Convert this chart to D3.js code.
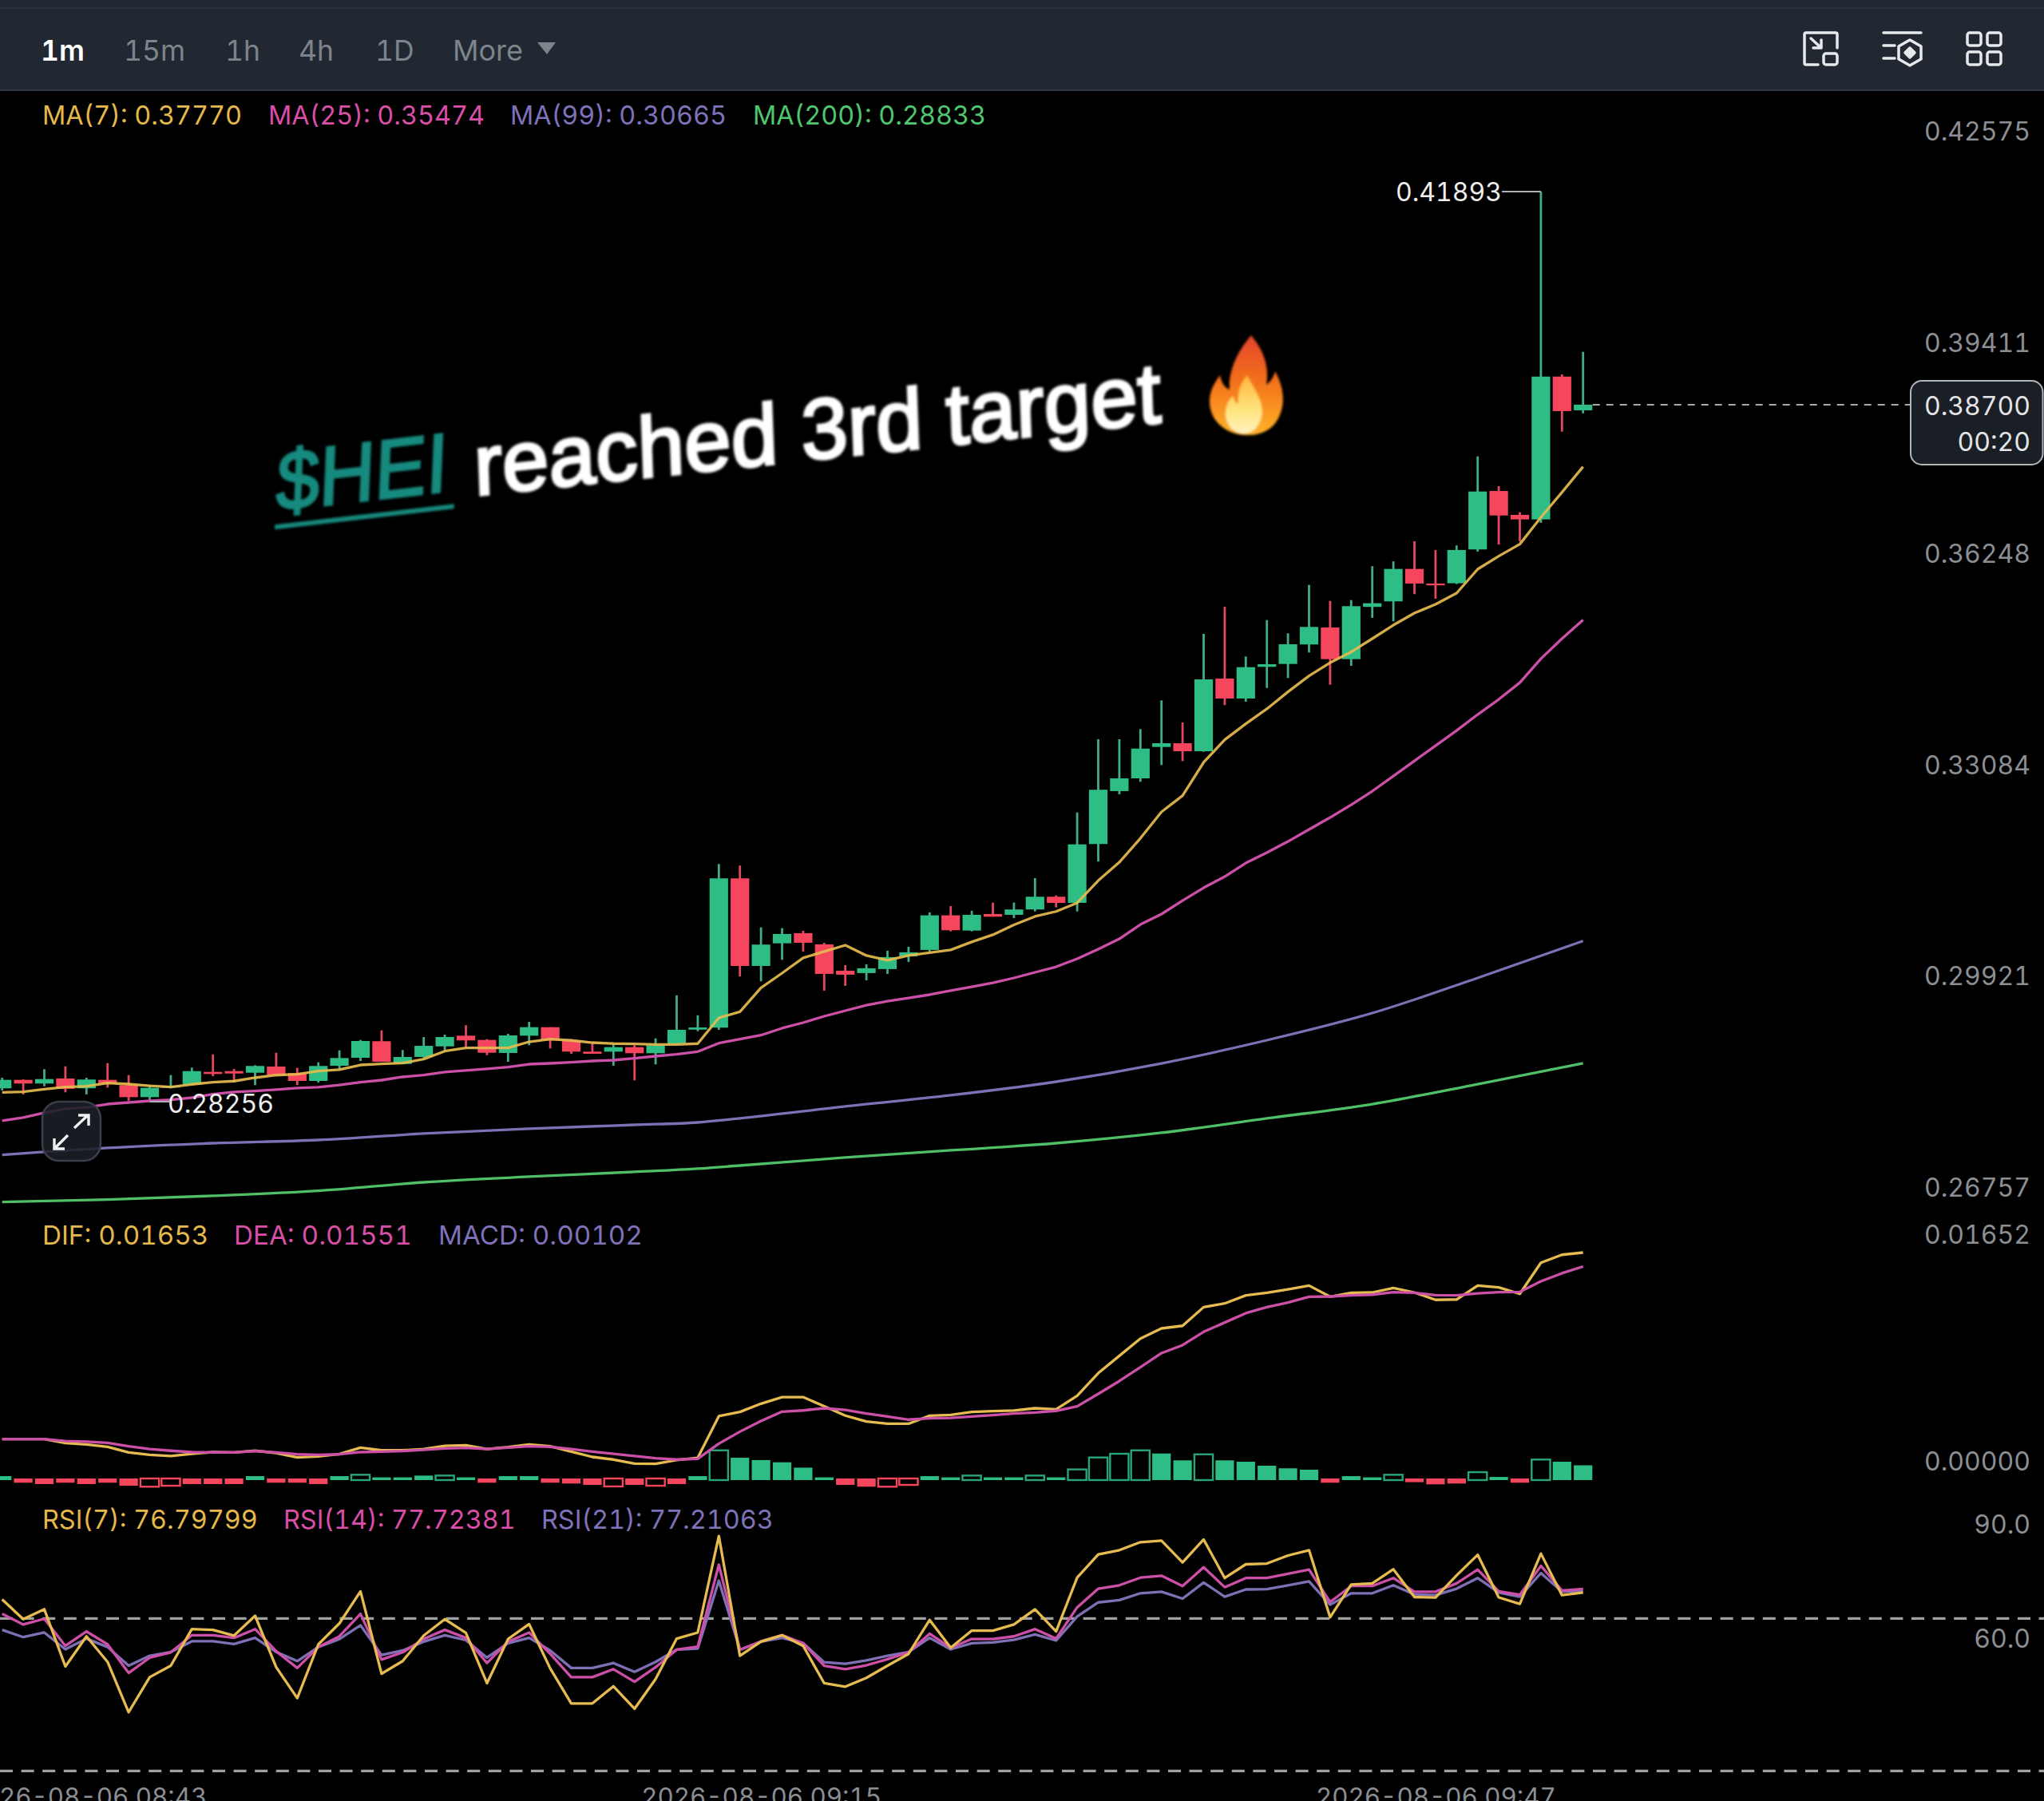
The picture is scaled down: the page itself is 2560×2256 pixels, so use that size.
<!DOCTYPE html>
<html><head><meta charset="utf-8">
<script src="https://cdn.jsdelivr.net/npm/d3@7"></script>
<style>html,body{margin:0;padding:0;background:#000;overflow:hidden}svg{display:block}text{font-family:Inter,Roboto,sans-serif;font-variant-numeric:tabular-nums;font-feature-settings:"tnum" 1}</style>
</head><body><svg id="c" width="2560" height="2256"></svg>
<script>
const opens=[.28456,.28583,.28528,.28603,.28456,.28583,.28504,.28324,.28468,.28516,.28702,.28714,.28690,.28782,.28683,.28567,.28794,.28914,.29162,.28822,.28926,.29085,.29245,.29181,.28986,.29245,.29372,.29174,.29006,.29006,.29073,.28982,.29126,.29336,.29365,.31602,.30290,.30629,.30781,.30613,.30219,.30183,.30243,.30434,.30530,.31048,.30820,.31068,.31056,.31136,.31327,.31235,.32117,.32910,.33101,.33571,.33627,.33507,.34596,.34297,.34772,.34815,.35107,.35361,.34887,.35670,.35753,.36239,.36020,.36024,.36531,.37407,.37049,.36981,.39121,.38616];
const closes=[.28583,.28528,.28595,.28448,.28588,.28528,.28324,.28463,.28495,.28714,.28671,.28678,.28791,.28654,.28567,.28791,.28910,.29165,.28854,.28926,.29093,.29225,.29174,.28989,.29249,.29372,.29174,.29006,.28974,.29073,.28982,.29102,.29333,.29368,.31602,.30290,.30610,.30769,.30637,.30171,.30159,.30255,.30422,.30494,.31048,.30825,.31056,.31028,.31136,.31327,.31235,.32112,.32930,.33101,.33547,.33627,.33507,.34584,.34297,.34767,.34811,.35110,.35370,.34887,.35681,.35725,.36239,.36020,.35993,.36523,.37399,.37040,.36981,.39121,.38604,.38700];
const highs=[.28615,.28590,.28743,.28786,.28615,.28834,.28654,.28495,.28654,.28767,.28965,.28747,.28803,.28989,.28762,.28846,.29025,.29181,.29324,.29030,.29225,.29261,.29401,.29193,.29273,.29452,.29372,.29193,.29145,.29114,.29102,.29205,.29850,.29551,.31818,.31794,.30868,.30856,.30817,.30637,.30302,.30315,.30518,.30578,.31092,.31187,.31116,.31239,.31239,.31606,.31346,.32590,.33687,.33687,.33839,.34269,.33938,.35266,.35672,.34927,.35473,.35274,.35999,.35760,.35772,.36280,.36352,.36654,.36523,.36591,.37925,.37479,.37088,.41893,.39154,.39492];
const lows=[.28424,.28364,.28487,.28396,.28364,.28468,.28270,.28256,.28456,.28507,.28639,.28547,.28504,.28647,.28504,.28543,.28747,.28866,.28854,.28818,.28914,.29013,.29073,.28953,.28854,.29102,.29054,.28974,.28974,.28794,.28576,.28815,.29114,.29312,.29333,.30131,.30060,.30382,.30506,.29920,.29991,.30075,.30171,.30350,.30506,.30808,.30808,.31028,.31008,.31107,.31167,.31107,.31854,.32862,.33050,.33301,.33360,.33499,.34198,.34249,.34456,.34604,.34987,.34504,.34787,.35506,.35454,.35861,.35793,.36012,.36499,.36603,.36650,.36929,.38296,.38571];

const ma7=[.28396,.28403,.28444,.28475,.28487,.28535,.28519,.28495,.28475,.28516,.28547,.28564,.28615,.28654,.28666,.28714,.28735,.28806,.28822,.28834,.28894,.29013,.29061,.29061,.29061,.29153,.29193,.29174,.29141,.29126,.29121,.29114,.29114,.29126,.29512,.29604,.29963,.30182,.30410,.30506,.30601,.30446,.30374,.30446,.30488,.30530,.30650,.30757,.30906,.31032,.31106,.31235,.31569,.31844,.32203,.32599,.32842,.33340,.33679,.33918,.34142,.34397,.34636,.34835,.34994,.35194,.35397,.35577,.35709,.35876,.36235,.36430,.36610,.37013,.37387,.37770];
const ma25=[.27969,.28017,.28089,.28149,.28172,.28220,.28244,.28268,.28284,.28316,.28367,.28400,.28415,.28436,.28460,.28472,.28507,.28547,.28579,.28627,.28654,.28699,.28723,.28747,.28774,.28818,.28830,.28846,.28866,.28878,.28906,.28938,.28965,.29006,.29133,.29193,.29252,.29357,.29440,.29536,.29620,.29703,.29763,.29811,.29859,.29919,.29978,.30038,.30110,.30194,.30277,.30397,.30541,.30696,.30911,.31067,.31270,.31461,.31629,.31832,.31988,.32155,.32335,.32514,.32705,.32909,.33136,.33363,.33590,.33817,.34057,.34284,.34535,.34894,.35194,.35474];
const slowIdx=[0,5,10,15,20,25,30,33,35,40,45,50,55,60,65,70,75];
const ma99=[.27458,.27563,.27634,.27682,.27778,.27850,.27909,.27945,.28005,.28185,.28352,.28555,.28830,.29177,.29584,.30110,.30665];
const ma200=[.26753,.26789,.26845,.26920,.27048,.27132,.27204,.27252,.27299,.27419,.27527,.27634,.27790,.28005,.28220,.28519,.28833];

const dif=[293,293,293,264,254,237,196,178,169,186,198,196,208,192,159,167,184,231,211,211,221,244,248,221,235,254,241,202,163,144,114,113,140,157,460,491,551,599,599,532,464,421,405,405,464,469,491,497,501,518,510,609,774,900,1026,1100,1119,1255,1282,1341,1360,1385,1412,1331,1360,1362,1395,1362,1308,1311,1412,1399,1352,1579,1637,1653];
const dea=[293,293,293,279,274,266,241,221,208,198,196,196,206,196,182,178,182,198,202,206,215,225,229,221,231,241,237,221,202,186,169,153,144,149,260,347,425,493,502,518,506,479,458,435,444,448,458,468,479,487,499,532,623,716,817,920,978,1075,1143,1211,1255,1288,1331,1333,1341,1346,1364,1360,1342,1341,1356,1364,1366,1443,1502,1551];
const macdHist=[23,-25,-35,-25,-35,-25,-47,-54,-47,-35,-35,-35,23,-25,-25,-35,23,33,14,14,27,27,14,-25,23,23,-25,-31,-41,-52,-41,-47,-35,23,211,157,140,124,85,14,-41,-54,-54,-41,23,14,27,14,14,27,14,72,159,186,211,188,138,182,138,128,99,80,70,-25,23,14,33,-21,-37,-31,52,17,-25,144,128,102];
const hollowBars=[7,8,17,21,29,31,34,42,43,46,49,51,52,53,54,57,66,70,73];

const rsi7=[75.0,69.8,72.4,57.4,65.3,58.6,45.4,54.6,57.6,67.2,67.0,65.5,70.7,57.2,49.1,63.2,68.7,77.1,55.5,58.8,65.5,69.8,66.2,53.0,64.6,68.5,56.9,47.7,47.7,52.2,46.3,54.1,64.7,66.3,91.6,60.2,63.9,65.6,62.8,53.0,52.1,54.4,57.6,60.7,69.6,62.3,66.8,66.8,68.4,72.4,66.6,80.7,86.8,87.9,90.0,90.4,84.7,90.7,80.6,84.2,84.4,86.5,87.9,70.3,78.9,79.2,82.9,75.6,75.5,81.3,86.7,75.5,73.8,87.0,76.1,76.8];
const rsi14=[71.2,68.4,69.9,62.8,66.6,63.2,55.7,59.7,61.1,65.6,65.6,64.9,67.2,61.4,57.0,62.5,65.3,71.2,59.2,61.1,64.6,67.0,64.9,58.3,63.9,66.3,60.7,54.6,54.6,56.7,53.4,57.2,61.8,62.6,84.1,61.8,64.0,65.6,63.5,57.6,56.7,57.7,59.3,61.1,66.0,62.3,64.6,64.6,65.3,67.2,64.7,72.9,77.8,78.7,80.7,81.2,78.5,83.4,78.2,80.6,80.6,81.7,82.8,74.3,78.5,78.5,80.6,77.0,77.0,79.2,82.8,77.1,76.2,83.8,77.3,77.72];
const rsi21=[67.0,65.1,66.3,61.9,64.7,62.5,57.6,60.2,61.2,64.0,64.0,63.3,64.9,61.2,58.8,62.5,64.6,68.2,60.4,61.6,63.9,65.6,64.3,59.7,63.5,64.9,61.6,57.0,57.0,58.3,56.0,58.6,61.8,62.1,79.9,61.8,63.9,64.9,63.5,58.5,58.1,59.0,60.2,61.2,64.9,61.9,63.5,63.7,64.4,65.8,64.2,70.5,74.2,74.8,76.6,77.0,75.2,79.4,75.7,77.6,77.7,78.7,79.7,73.6,76.6,76.6,78.7,76.3,76.1,77.8,80.6,76.8,75.7,81.9,77.0,77.21];

const priceTicks=[.42575,.39411,.36248,.33084,.29921,.26757];
const macdTicks=[.01652,0];
const rsiTicks=[90,60];
const rsiGuides=[70,30];
const timeTicks=[4,36,68];
const timeLabels=["2026-08-06 08:43","2026-08-06 09:15","2026-08-06 09:47"];
const tabs=["1m","15m","1h","4h","1D","More"];
const maLegend=[["MA(7): 0.37770","#e5b84b"],["MA(25): 0.35474","#d94fa8"],["MA(99): 0.30665","#7f71ba"],["MA(200): 0.28833","#4fc76f"]];
const macdLegend=[["DIF: 0.01653","#e5b84b"],["DEA: 0.01551","#d94fa8"],["MACD: 0.00102","#7f71ba"]];
const rsiLegend=[["RSI(7): 76.79799","#e5b84b"],["RSI(14): 77.72381","#d94fa8"],["RSI(21): 77.21063","#7f71ba"]];

const UP="#2ebd85",DOWN="#f6465d",YEL="#e6bb50",PINK="#cc50a8",PUR="#7f6fb6",GRN="#4fbf68",AX="#8b8f94";
const svg=d3.select("#c");
const defs=svg.append("defs");
defs.append("filter").attr("id","soft").append("feGaussianBlur").attr("stdDeviation",1.6);
defs.append("filter").attr("id","lineSoft").append("feGaussianBlur").attr("stdDeviation",.5);
defs.append("filter").attr("id","smudge").attr("x","-50%").attr("y","-100%").attr("width","200%").attr("height","300%").append("feGaussianBlur").attr("stdDeviation",28);
const g1=defs.append("linearGradient").attr("id","fl").attr("x1",0).attr("y1",0).attr("x2",0).attr("y2",1);
[[0,"#e5432d"],[.45,"#f3701b"],[1,"#ffb428"]].forEach(s=>g1.append("stop").attr("offset",s[0]).attr("stop-color",s[1]));
const g2=defs.append("linearGradient").attr("id","fl2").attr("x1",0).attr("y1",0).attr("x2",0).attr("y2",1);
[[0,"#ffb63a"],[.6,"#ffe47e"],[1,"#fff3c0"]].forEach(s=>g2.append("stop").attr("offset",s[0]).attr("stop-color",s[1]));

const x=d3.scaleLinear().domain([0,75]).range([2.7,1982.7]);
const yP=d3.scaleLinear().domain([.41893,.28256]).range([240,1380]);
const yM=d3.scaleLinear().domain([0,.01653]).range([1853,1569]);
const yR=d3.scaleLinear().domain([70,30]).range([2027.3,2218.3]);

svg.append("rect").attr("width",2560).attr("height",2256).attr("fill","#000");
svg.append("ellipse").attr("cx",1300).attr("cy",765).attr("rx",170).attr("ry",40).attr("fill","#050604").attr("filter","url(#smudge)");

// top bar
svg.append("rect").attr("width",2560).attr("height",113).attr("fill","#222831");
svg.append("rect").attr("y",9).attr("width",2560).attr("height",2).attr("fill","#2b323c");
svg.append("rect").attr("y",112).attr("width",2560).attr("height",2).attr("fill","#343a44");
const tabX=[51,155,282,374,470,567];
svg.selectAll(".tab").data(tabs).join("text").attr("x",(d,i)=>tabX[i]).attr("y",76)
 .attr("font-size",(d,i)=>i==5?36:35.5).attr("fill",(d,i)=>i?"#7d848c":"#fff").attr("font-weight",(d,i)=>i?400:600).text(d=>d);
svg.append("path").attr("d","M673 53H696L685 68Z").attr("fill","#7d848c");
const ic=svg.append("g").attr("fill","none").attr("stroke","#e6e8ea").attr("stroke-width",3.5).attr("stroke-linecap","round").attr("stroke-linejoin","round");
ic.append("path").attr("d","M2277 81H2262a2 2 0 0 1-2-2V43a2 2 0 0 1 2-2H2299a2 2 0 0 1 2 2V60");
ic.append("rect").attr("x",2284).attr("y",67).attr("width",17).attr("height",14).attr("rx",3);
ic.append("path").attr("d","M2268 48L2281 60M2281 50V60H2271");
ic.append("path").attr("d","M2359 41H2406M2359 57H2373M2359 73H2373");
ic.append("path").attr("d","M2392 50L2406 58V74L2392 82L2378 74V58Z");
ic.append("path").attr("d","M2392 60L2398 66L2392 72L2386 66Z").attr("fill","#e6e8ea");
[[2464,41],[2489,41],[2464,65],[2489,65]].forEach(p=>ic.append("rect").attr("x",p[0]).attr("y",p[1]).attr("width",17).attr("height",16).attr("rx",3));

// legends
function legend(items,xs,y,fs){svg.append("g").selectAll("text").data(items).join("text").attr("x",(d,i)=>xs[i]).attr("y",y).attr("font-size",fs).attr("fill",d=>d[1]).text(d=>d[0]);}
legend(maLegend,[53,336,639,943],156,32.4);
legend(macdLegend,[53,293,549],1559,33.2);
legend(rsiLegend,[53,355,678],1915,32.4);

// axes
function yAxis(scale,ticks,fmt,dy){
 const a=svg.append("g").call(d3.axisRight(scale).tickValues(ticks).tickSize(0).tickFormat(fmt));
 a.select(".domain").remove();
 a.selectAll("text").attr("x",2543).attr("text-anchor","end").attr("dy",dy).attr("dominant-baseline","middle").attr("font-size",32).attr("fill",AX).style("font-family","Inter");
}
yAxis(yP,priceTicks,d3.format(".5f"),-16);
yAxis(yM,macdTicks,d3.format(".5f"),-20);
yAxis(yR,rsiTicks,d3.format(".1f"),-20);
const xa=svg.append("g").attr("transform","translate(0,2262)").call(d3.axisBottom(x).tickValues(timeTicks).tickSize(0).tickPadding(0).tickFormat((d,i)=>timeLabels[i]));
xa.select(".domain").remove();
xa.selectAll("text").attr("y",0).attr("dy",0).attr("font-size",31.3).attr("fill",AX).style("font-family","Inter");

// candles
const idx=d3.range(opens.length);
const cg=svg.append("g");
cg.selectAll(".w").data(idx).join("line").attr("x1",i=>x(i)).attr("x2",i=>x(i)).attr("y1",i=>yP(highs[i])).attr("y2",i=>yP(lows[i]))
 .attr("stroke",i=>closes[i]>=opens[i]?"#43ad8b":"#e2495f").attr("stroke-width",2.8);
cg.selectAll(".b").data(idx).join("rect").attr("x",i=>x(i)-11.6).attr("width",23.2)
 .attr("y",i=>yP(Math.max(opens[i],closes[i])))
 .attr("height",i=>Math.abs(yP(opens[i])-yP(closes[i])))
 .attr("fill",i=>closes[i]>=opens[i]?UP:DOWN);

// MA lines
const lineAll=(arr,y)=>d3.line().x((d,i)=>x(i)).y(d=>y(d))(arr);
const lineKn=(arr,ix,y)=>d3.line().curve(d3.curveMonotoneX).x((d,i)=>x(ix[i])).y(d=>y(d))(arr);
function stroke(d,c,w,op){svg.append("path").attr("d",d).attr("fill","none").attr("stroke",c).attr("stroke-width",w||3.3).attr("stroke-linejoin","round").attr("opacity",op||1).attr("filter","url(#lineSoft)");}
stroke(lineKn(ma200,slowIdx,yP),GRN);
stroke(lineKn(ma99,slowIdx,yP),PUR);
stroke(lineAll(ma25,yP),PINK);
stroke(lineAll(ma7,yP),YEL,3.3,.92);

// current price
svg.append("line").attr("x1",x(75)+12).attr("x2",2392).attr("y1",yP(.387)).attr("y2",yP(.387)).attr("stroke","#a8aaaa").attr("stroke-width",2).attr("stroke-dasharray","9 8");
svg.append("rect").attr("x",2393).attr("y",477).attr("width",165.5).attr("height",105).attr("rx",14).attr("fill","#1a1e25").attr("stroke","#b3b6b9").attr("stroke-width",2);
svg.append("text").attr("x",2543).attr("y",520).attr("text-anchor","end").attr("font-size",32).attr("fill","#e3e5e7").text("0.38700");
svg.append("text").attr("x",2543).attr("y",565).attr("text-anchor","end").attr("font-size",32).attr("fill","#e3e5e7").text("00:20");

// high/low markers
svg.append("path").attr("d",`M1881 ${yP(.41893)}H${x(73)}`).attr("stroke","#b0b0b0").attr("stroke-width",2).attr("fill","none");
svg.append("text").attr("x",1881).attr("y",yP(.41893)+12).attr("text-anchor","end").attr("font-size",32).attr("fill","#eee").text("0.41893");
svg.append("path").attr("d",`M${x(7)} ${yP(.28256)}H212`).attr("stroke","#b0b0b0").attr("stroke-width",2).attr("fill","none");
svg.append("text").attr("x",210).attr("y",yP(.28256)+14).attr("font-size",32).attr("fill","#eee").text("0.28256");

// expand button
svg.append("rect").attr("x",53).attr("y",1380).attr("width",73).attr("height",74).attr("rx",21).attr("fill","#1c1f27").attr("fill-opacity",.88).attr("stroke","#3b3f49").attr("stroke-width",2.5);
svg.append("path").attr("d","M93 1413L110 1397M98 1397H111V1410M85 1422L68 1439M68 1426V1439H81").attr("fill","none").attr("stroke","#eef0f2").attr("stroke-width",3.4);

// MACD panel
const hg=svg.append("g");
hg.selectAll("rect").data(idx).join("rect")
 .attr("x",i=>x(i)-11.6).attr("width",23.2)
 .attr("y",i=>macdHist[i]>=0?yM(macdHist[i]/1e5):yM(0)-1)
 .attr("height",i=>macdHist[i]>=0?yM(0)-yM(macdHist[i]/1e5)+1:yM(macdHist[i]/1e5)-yM(0)+1)
 .attr("fill",i=>hollowBars.includes(i)?"#000":(macdHist[i]>=0?UP:DOWN))
 .attr("stroke",i=>hollowBars.includes(i)?(macdHist[i]>=0?"#2aa578":DOWN):"none")
 .attr("stroke-width",2.4);
stroke(lineAll(dif.map(v=>v/1e5),yM),YEL);
stroke(lineAll(dea.map(v=>v/1e5),yM),PINK);

// RSI panel
svg.selectAll(".g").data(rsiGuides).join("line").attr("x1",0).attr("x2",2560).attr("y1",d=>yR(d)).attr("y2",d=>yR(d)).attr("stroke","#a0a0a0").attr("stroke-width",3.2).attr("stroke-dasharray","16 10.6");
stroke(lineAll(rsi21,yR),PUR);
stroke(lineAll(rsi14,yR),PINK);
stroke(lineAll(rsi7,yR),YEL);

// overlay title
const t=svg.append("g").attr("filter","url(#soft)");
const ticker=t.append("g").attr("transform","translate(345,640) rotate(-6.6) skewX(-9)");
ticker.append("text").attr("font-size",104).attr("fill","#148a7e").attr("stroke","#148a7e").attr("stroke-width",3).attr("textLength",216).attr("lengthAdjust","spacingAndGlyphs").style("font-family","Liberation Sans").text("$HEI");
ticker.append("line").attr("x1",0).attr("x2",226).attr("y1",20).attr("y2",20).attr("stroke","#148a7e").attr("stroke-width",6);
t.append("text").attr("transform","translate(595,621) rotate(-6.1) skewX(-4)").attr("font-size",108).attr("font-weight",400).attr("stroke","#fff").attr("stroke-width",3.5).attr("fill","#fff").attr("textLength",865).attr("lengthAdjust","spacingAndGlyphs").style("font-family","Liberation Sans").text("reached 3rd target");
const f=svg.append("g").attr("filter","url(#soft)");
f.append("path").attr("d","M1567 420C1582 438 1590 458 1586 482C1592 478 1596 470 1597 465C1608 485 1610 505 1602 522C1594 540 1576 546 1560 545C1536 544 1516 528 1515 505C1514 490 1522 478 1528 470C1530 480 1534 486 1540 488C1538 465 1550 440 1567 420Z").attr("fill","url(#fl)");
f.append("path").attr("d","M1562 470C1572 490 1584 505 1580 522C1576 538 1566 543 1558 543C1544 543 1534 530 1535 516C1536 506 1540 500 1544 496C1546 502 1548 505 1551 506C1550 490 1554 480 1562 470Z").attr("fill","url(#fl2)");
</script></body></html>
